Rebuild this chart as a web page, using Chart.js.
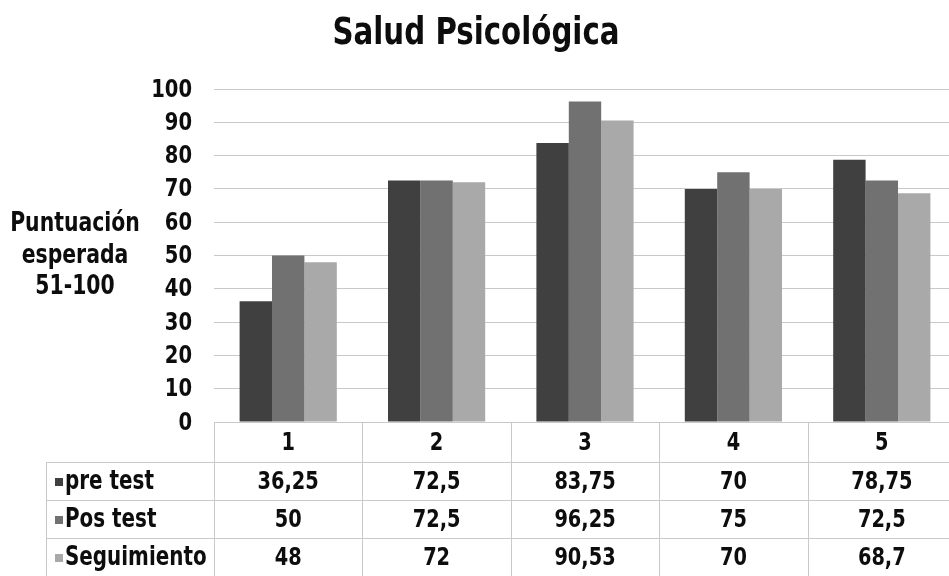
<!DOCTYPE html>
<html>
<head>
<meta charset="utf-8">
<script src="https://cdn.jsdelivr.net/npm/chart.js@4.4.1/dist/chart.umd.min.js"></script>
<style>
  html, body { margin: 0; padding: 0; background: #fff; overflow: hidden; }
  #wrap { width: 956px; height: 576px; }
</style>
</head>
<body>
<div id="wrap"><canvas id="c" width="956" height="576"></canvas></div>
<script>
// Chart content
const chartTitle = 'Salud Psicológica';
const axisTitleLines = ['Puntuación', 'esperada', '51-100'];
const categories = ['1', '2', '3', '4', '5'];
const seriesNames = ['pre test', 'Pos test', 'Seguimiento'];
const preTest = [36.25, 72.5, 83.75, 70, 78.75];
const posTest = [50, 72.5, 96.25, 75, 72.5];
const seguimiento = [48, 72, 90.53, 70, 68.7];
const yTicks = [0, 10, 20, 30, 40, 50, 60, 70, 80, 90, 100];

const seriesColors = ['#404040', '#717171', '#a9a9a9'];
const FONT = '"DejaVu Sans Condensed", "Liberation Sans Narrow", sans-serif';
const LINE = '#c9c9c9';
const INK = '#0d0d0d';

// Decimal comma, as written in the data table
const fmt = v => String(v).replace('.', ',');

// Bold, horizontally squeezed text (narrow display face look)
function squeezed(ctx, text, x, y, size, sx, align) {
  ctx.save();
  ctx.font = 'bold ' + size + 'px ' + FONT;
  ctx.textAlign = align || 'center';
  ctx.textBaseline = 'middle';
  ctx.fillStyle = INK;
  ctx.translate(x, y);
  ctx.scale(sx, 1);
  ctx.fillText(text, 0, 0);
  ctx.restore();
}

// Title, tick labels, vertical caption and the data table under the plot
const extras = {
  id: 'extras',
  afterDraw(chart) {
    const ctx = chart.ctx;
    const area = chart.chartArea;
    const x = chart.scales.x;
    const y = chart.scales.y;
    const n = categories.length;
    const colW = (area.right - area.left) / n;
    const rowEdges = [0, 40, 78, 116, 154].map(d => area.bottom + d);
    const legendLeft = 46;

    squeezed(ctx, chartTitle, 476, 34, 37, 0.88);
    axisTitleLines.forEach((t, i) => squeezed(ctx, t, 75, 224 + i * 31.5, 27, 0.84));
    yTicks.forEach(v => squeezed(ctx, String(v), 192, y.getPixelForValue(v) + 1, 25, 0.87, 'right'));

    // table grid
    ctx.save();
    ctx.strokeStyle = LINE;
    ctx.lineWidth = 1;
    ctx.beginPath();
    rowEdges.forEach((ry, r) => {
      const yy = Math.round(ry) + 0.5;
      ctx.moveTo(r === 0 ? area.left : legendLeft, yy);
      ctx.lineTo(area.right, yy);
    });
    for (let i = 0; i <= n; i++) {
      const xx = Math.round(x.getPixelForValue(i) - colW / 2) + 0.5;
      ctx.moveTo(xx, area.bottom);
      ctx.lineTo(xx, chart.height);
    }
    ctx.moveTo(legendLeft + 0.5, rowEdges[1]);
    ctx.lineTo(legendLeft + 0.5, chart.height);
    ctx.stroke();
    ctx.restore();

    categories.forEach((c, i) => {
      squeezed(ctx, c, x.getPixelForValue(i), (rowEdges[0] + rowEdges[1]) / 2 + 1, 25, 0.86);
    });

    chart.data.datasets.forEach((ds, r) => {
      const cy = (rowEdges[r + 1] + rowEdges[r + 2]) / 2;
      ctx.fillStyle = ds.backgroundColor;
      ctx.fillRect(55, Math.round(cy) - 3, 8, 8);
      squeezed(ctx, ds.label, 65, cy + 1, 27, 0.82, 'left');
      ds.data.forEach((v, i) => squeezed(ctx, fmt(v), x.getPixelForValue(i), cy + 1, 25, 0.86));
    });
  }
};

new Chart(document.getElementById('c'), {
  type: 'bar',
  data: {
    labels: categories,
    datasets: [
      { label: seriesNames[0], data: preTest, backgroundColor: seriesColors[0] },
      { label: seriesNames[1], data: posTest, backgroundColor: seriesColors[1] },
      { label: seriesNames[2], data: seguimiento, backgroundColor: seriesColors[2] }
    ]
  },
  options: {
    responsive: false,
    animation: false,
    devicePixelRatio: 1,
    layout: { padding: { top: 89, bottom: 154, left: 0, right: 0 } },
    datasets: { bar: { categoryPercentage: 0.655, barPercentage: 1.0 } },
    plugins: { legend: { display: false }, title: { display: false }, tooltip: { enabled: false } },
    scales: {
      x: { display: false },
      y: {
        min: 0, max: 100,
        afterFit(scale) { scale.width = 214; },
        afterBuildTicks(scale) { scale.ticks = yTicks.map(v => ({ value: v })); },
        border: { display: false },
        grid: { color: LINE, lineWidth: 1, drawTicks: false },
        ticks: { display: false }
      }
    }
  },
  plugins: [extras]
});
</script>
</body>
</html>
